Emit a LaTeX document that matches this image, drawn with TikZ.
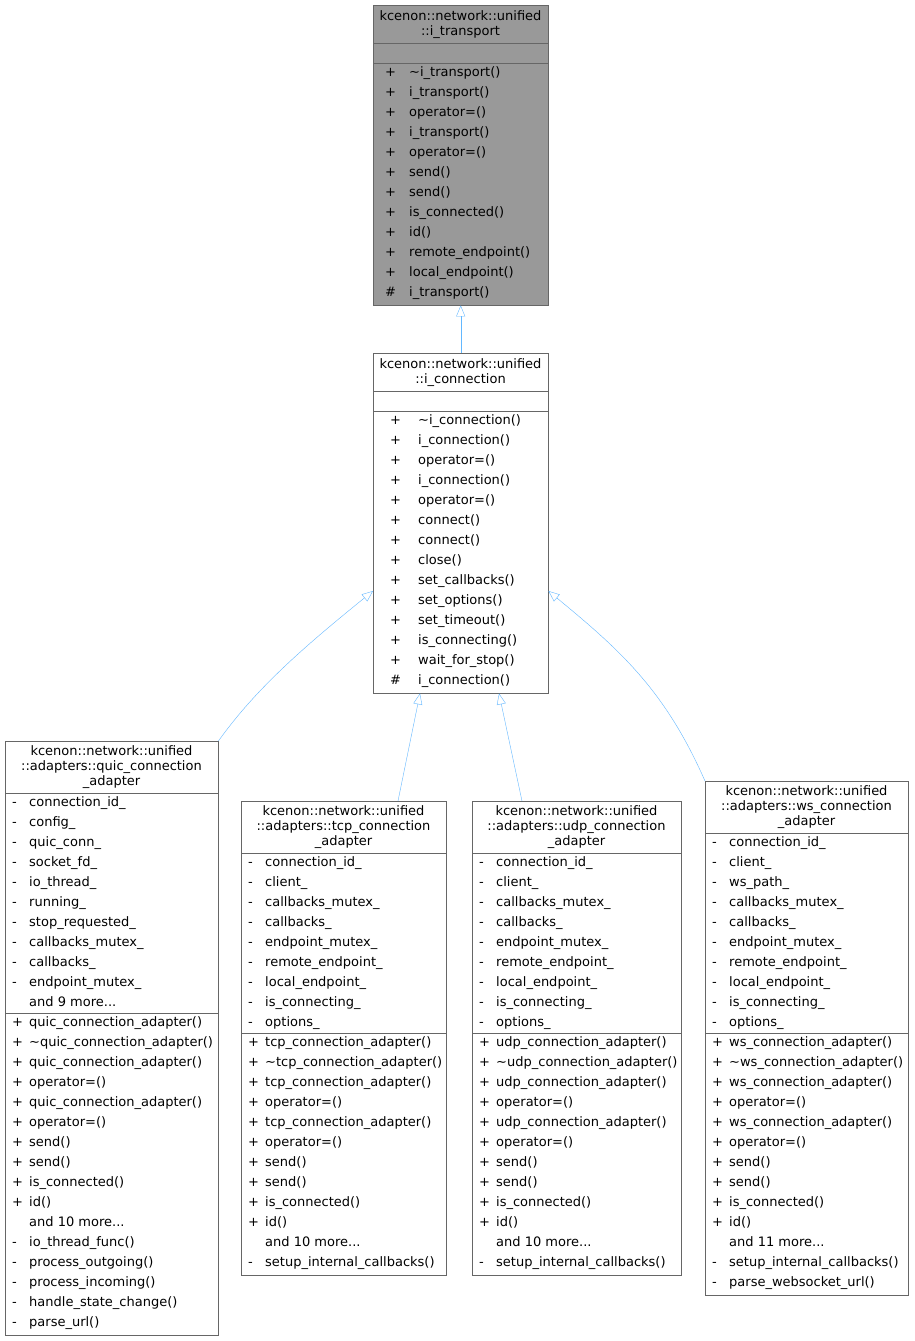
\documentclass[tikz,border=0pt]{standalone}
\usepackage{fontspec}
\setmainfont{DejaVu Sans}
\usetikzlibrary{arrows.meta}
\definecolor{edgeblue}{HTML}{63B8FF}
\definecolor{boxgray}{HTML}{999999}
\definecolor{boxline}{HTML}{666666}
\newcommand\tl{\textasciitilde}
\newcommand\more{...}
\tikzset{
  classbox/.style={draw=boxline,fill=white,inner sep=0pt,anchor=north west},
  mem/.style={font=\fontsize{13}{15}\selectfont,inner sep=0pt,anchor=base west},
  title/.style={font=\fontsize{13}{15}\selectfont,inner sep=0pt,align=center,anchor=north},
  sep/.style={draw=boxline},
  inherit/.style={draw=edgeblue,-{Triangle[open,length=11pt,width=9pt]}}
}
\begin{document}
\begin{tikzpicture}[x=1pt,y=-1pt]
\useasboundingbox[fill=white] (0,0) rectangle (914,1341);

% i_transport
\node[classbox,fill=boxgray,minimum width=175pt,minimum height=300pt] (transport) at (373,5) {};
\node[title] (transportname) at (460.5,10) {kcenon::network::unified\\::i\_transport};
\draw[sep] (373,43) -- (548,43);
\draw[sep] (373,63) -- (548,63);
\foreach \s/\t [count=\i from 0] in {+/\tl i\_transport(),+/i\_transport(),+/operator=(),+/i\_transport(),+/operator=(),+/send(),+/send(),+/is\_connected(),+/id(),+/remote\_endpoint(),+/local\_endpoint(),\#/i\_transport()}
  \node[mem] at (385,76+20*\i) {\s} node[mem] at (409,76+20*\i) {\t};

% i_connection
\node[classbox,minimum width=175pt,minimum height=340pt] (connection) at (373,353) {};
\node[title] (connectionname) at (460.5,358) {kcenon::network::unified\\::i\_connection};
\draw[sep] (373,391) -- (548,391);
\draw[sep] (373,411) -- (548,411);
\foreach \s/\t [count=\i from 0] in {+/\tl i\_connection(),+/i\_connection(),+/operator=(),+/i\_connection(),+/operator=(),+/connect(),+/connect(),+/close(),+/set\_callbacks(),+/set\_options(),+/set\_timeout(),+/is\_connecting(),+/wait\_for\_stop(),\#/i\_connection()}
  \node[mem] at (390,424+20*\i) {\s} node[mem] at (418,424+20*\i) {\t};

% quic adapter
\node[classbox,minimum width=213pt,minimum height=594pt] (quic) at (5,741) {};
\node[title] (quicname) at (111.5,745) {kcenon::network::unified\\::adapters::quic\_connection\\\_adapter};
\draw[sep] (5,793) -- (218,793);
\draw[sep] (5,1013) -- (218,1013);
\foreach \s/\t [count=\i from 0] in {-/connection\_id\_,-/config\_,-/quic\_conn\_,-/socket\_fd\_,-/io\_thread\_,-/running\_,-/stop\_requested\_,-/callbacks\_mutex\_,-/callbacks\_,-/endpoint\_mutex\_,/and 9 more\more,+/quic\_connection\_adapter(),+/\tl quic\_connection\_adapter(),+/quic\_connection\_adapter(),+/operator=(),+/quic\_connection\_adapter(),+/operator=(),+/send(),+/send(),+/is\_connected(),+/id(),/and 10 more\more,-/io\_thread\_func(),-/process\_outgoing(),-/process\_incoming(),-/handle\_state\_change(),-/parse\_url()}
  \node[mem] at (12,806+20*\i) {\s} node[mem] at (29,806+20*\i) {\t};

% tcp adapter
\node[classbox,minimum width=205pt,minimum height=474pt] (tcp) at (241,801) {};
\node[title] (tcpname) at (343.5,805) {kcenon::network::unified\\::adapters::tcp\_connection\\\_adapter};
\draw[sep] (241,853) -- (446,853);
\draw[sep] (241,1033) -- (446,1033);
\foreach \s/\t [count=\i from 0] in {-/connection\_id\_,-/client\_,-/callbacks\_mutex\_,-/callbacks\_,-/endpoint\_mutex\_,-/remote\_endpoint\_,-/local\_endpoint\_,-/is\_connecting\_,-/options\_,+/tcp\_connection\_adapter(),+/\tl tcp\_connection\_adapter(),+/tcp\_connection\_adapter(),+/operator=(),+/tcp\_connection\_adapter(),+/operator=(),+/send(),+/send(),+/is\_connected(),+/id(),/and 10 more\more,-/setup\_internal\_callbacks()}
  \node[mem] at (248,866+20*\i) {\s} node[mem] at (265,866+20*\i) {\t};

% udp adapter
\node[classbox,minimum width=209pt,minimum height=474pt] (udp) at (472,801) {};
\node[title] (udpname) at (576.5,805) {kcenon::network::unified\\::adapters::udp\_connection\\\_adapter};
\draw[sep] (472,853) -- (681,853);
\draw[sep] (472,1033) -- (681,1033);
\foreach \s/\t [count=\i from 0] in {-/connection\_id\_,-/client\_,-/callbacks\_mutex\_,-/callbacks\_,-/endpoint\_mutex\_,-/remote\_endpoint\_,-/local\_endpoint\_,-/is\_connecting\_,-/options\_,+/udp\_connection\_adapter(),+/\tl udp\_connection\_adapter(),+/udp\_connection\_adapter(),+/operator=(),+/udp\_connection\_adapter(),+/operator=(),+/send(),+/send(),+/is\_connected(),+/id(),/and 10 more\more,-/setup\_internal\_callbacks()}
  \node[mem] at (479,866+20*\i) {\s} node[mem] at (496,866+20*\i) {\t};

% ws adapter
\node[classbox,minimum width=203pt,minimum height=514pt] (ws) at (705,781) {};
\node[title] (wsname) at (806.5,785) {kcenon::network::unified\\::adapters::ws\_connection\\\_adapter};
\draw[sep] (705,833) -- (908,833);
\draw[sep] (705,1033) -- (908,1033);
\foreach \s/\t [count=\i from 0] in {-/connection\_id\_,-/client\_,-/ws\_path\_,-/callbacks\_mutex\_,-/callbacks\_,-/endpoint\_mutex\_,-/remote\_endpoint\_,-/local\_endpoint\_,-/is\_connecting\_,-/options\_,+/ws\_connection\_adapter(),+/\tl ws\_connection\_adapter(),+/ws\_connection\_adapter(),+/operator=(),+/ws\_connection\_adapter(),+/operator=(),+/send(),+/send(),+/is\_connected(),+/id(),/and 11 more\more,-/setup\_internal\_callbacks(),-/parse\_websocket\_url()}
  \node[mem] at (712,846+20*\i) {\s} node[mem] at (729,846+20*\i) {\t};

% inheritance
\draw[inherit] (connection.north) -- (transport.south);
\draw[inherit] (quic.north east) .. controls (255,690) and (300,650) .. (connection.west |- 0,591);
\draw[inherit] (tcp.north -| 398,0) -- (connection.south -| 420,0);
\draw[inherit] (udp.north -| 522,0) -- (connection.south -| 499,0);
\draw[inherit] (ws.north west) .. controls (665,690) and (620,650) .. (connection.east |- 0,591);
\end{tikzpicture}
\end{document}
